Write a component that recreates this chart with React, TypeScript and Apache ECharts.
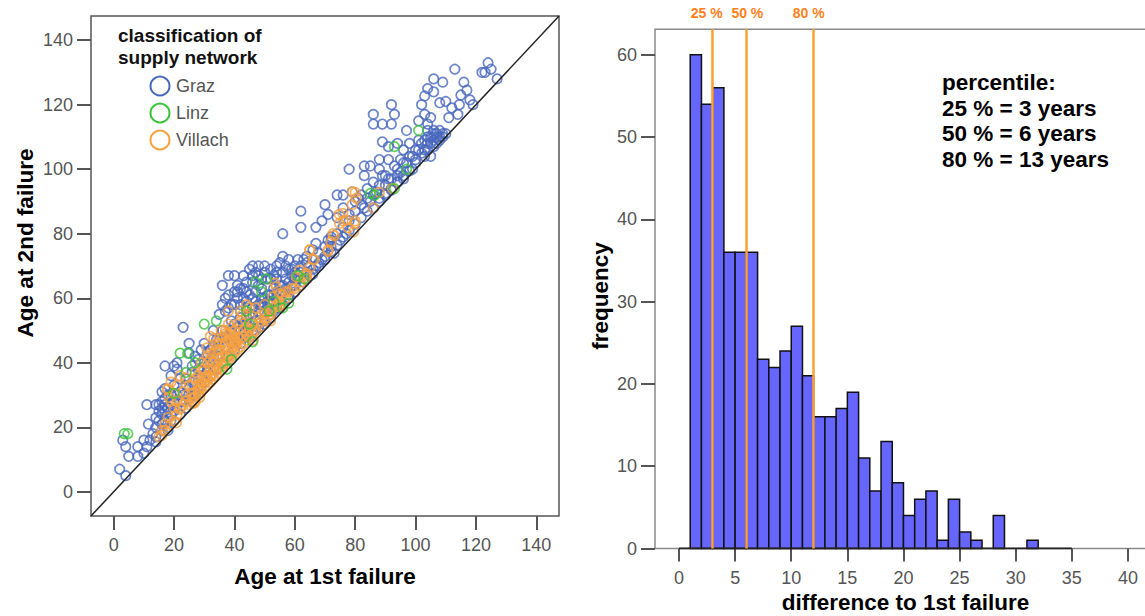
import React, { useEffect, useRef } from "react";
import * as echarts from "echarts";

// ---------- Left chart: age at 1st vs 2nd failure ----------
const scatterTicks = [0, 20, 40, 60, 80, 100, 120, 140];
const scatterRange = [-7.5, 147.5];
const seriesNames = ["Graz", "Linz", "Villach"];

const grazPoints: number[][] = [
  [2, 7], [4, 5], [3, 16], [4, 14], [5, 11], [8, 14], [8, 11], [11, 14], [12, 16], [11, 27], [11.5, 21], [10, 16], [13, 18], [14, 17],
  [14, 20], [14, 23], [15, 22], [15, 25], [15, 27], [16, 19], [16, 21], [16, 24], [16, 26], [16, 28], [17, 22], [17, 25], [17, 27],
  [18, 20], [18, 23], [18, 26], [19, 24], [19, 27], [19, 22], [20, 25], [17, 32], [18, 30], [17, 39], [20, 39], [19, 36], [21, 38],
  [20, 33], [16, 31], [14, 27],
  [23, 51], [25, 46], [25, 43], [21, 40], [22, 35], [24, 33], [26, 37], [27, 42], [28, 38], [23, 30], [25, 32], [29, 36], [29, 44],
  [26, 30], [22, 28], [24, 26], [27, 31], [30, 40], [31, 43], [32, 40], [33, 45], [34, 47], [31, 37], [33, 38], [35, 42], [28, 35], [26, 34],
  [36, 64], [38, 61], [38, 67], [40, 67], [41, 64], [41, 60], [43, 63], [43, 67], [45, 69], [44, 62], [35, 55], [37, 56], [39, 53],
  [42, 54], [45, 55], [36, 58], [38, 57], [40, 58], [42, 58], [44, 59], [36, 50], [38, 48], [40, 52], [42, 50], [44, 52], [37, 45],
  [39, 46], [41, 47], [43, 49], [35, 47], [33, 50], [34, 44],
  [47, 68], [48, 70], [50, 70], [52, 69], [54, 70], [46, 70], [49, 66], [51, 66], [53, 67], [55, 71], [56, 73], [56, 80], [57, 70],
  [58, 72], [54, 66], [46, 60], [48, 58], [50, 56], [52, 58], [54, 60], [56, 62], [58, 61], [60, 64], [46, 55], [48, 52], [47, 50],
  [50, 52], [52, 54], [55, 57], [58, 60], [44, 54], [45, 48], [47, 62], [49, 63], [51, 61], [53, 63], [55, 64], [57, 66], [59, 67],
  [46, 65], [48, 64], [50, 60], [52, 61], [56, 68], [49, 58], [51, 57], [53, 56], [47, 53], [45, 51], [43, 52],
  [62, 87], [62, 82], [60, 70], [63, 72], [65, 70], [67, 82], [69, 84], [71, 86], [70, 89], [74, 92], [76, 92], [79, 93], [66, 72],
  [64, 68], [67, 70], [70, 73], [72, 76], [67, 77], [73, 74], [68, 71], [61, 66], [62, 68], [63, 65], [65, 67], [66, 69], [69, 72],
  [72, 79], [75, 78], [77, 80], [78, 84], [76, 88], [74, 85], [71, 78], [80, 90], [59, 69], [61, 72], [64, 71],
  [86, 96], [88, 91], [90, 95], [92, 94], [82, 92], [81, 91], [83, 88], [85, 101], [83, 101], [88, 103], [83, 98], [89, 98], [91, 97],
  [94, 98], [94, 96], [96, 98], [78, 100], [86, 117], [86, 114], [89, 114], [92, 114], [92, 120], [93, 117], [89, 108.5], [91, 107],
  [94, 108], [96, 106], [97, 112], [99, 104], [98, 108], [84, 94], [87, 93], [90, 92], [93, 101], [95, 103], [97, 102], [99, 100],
  [91, 103], [88, 100], [85, 90], [95, 99],
  [101, 109], [102, 105], [103, 106], [104, 108], [105, 110], [106, 109], [107, 111], [108, 110], [109, 110], [106, 111], [107, 108],
  [104, 112], [102, 120], [105, 116], [104, 114], [101, 106], [103, 104], [105, 104], [104, 125], [103, 122.7], [106, 124], [109, 127],
  [106, 128], [108, 120.6], [108, 112], [110, 111], [100, 103], [101, 115], [103, 117],
  [113, 131], [116, 127], [115, 123], [114.5, 120], [111, 116], [110, 121], [118, 121.5], [117, 124.5], [122, 130], [124, 133],
  [125, 131], [127, 128], [123, 130], [114, 117], [119, 120], [112, 119],
  [30, 34], [32, 36], [34, 38], [36, 40], [38, 42], [40, 44], [42, 46], [44, 48], [46, 50], [48, 51], [50, 53], [52, 55], [54, 57],
  [56, 58], [58, 60], [60, 62], [62, 64], [64, 66], [66, 67.5], [68, 70], [70, 72], [72, 74.5], [74, 76.5], [76, 79], [78, 81],
  [80, 83], [82, 85], [84, 87], [86, 88], [88, 90], [90, 92.5], [92, 93.5], [94, 96], [96, 97], [98, 99.5], [100, 102], [26, 28],
  [22, 24], [18, 19], [14, 15.5], [10, 12],
  [41, 62], [43, 60], [45, 61], [47, 59], [49, 60], [51, 59], [53, 61], [55, 62], [57, 63], [59, 64], [42, 56], [44, 57], [46, 57],
  [48, 56], [50, 58], [52, 59], [54, 62], [56, 64], [58, 65], [60, 66], [48, 67], [50, 68], [52, 66], [54, 68], [46, 67], [44, 65],
  [42, 63], [40, 62], [39, 58], [37, 60], [58, 69], [60, 68], [62, 70], [64, 73], [66, 75], [68, 74], [70, 76], [72, 78], [74, 80],
  [76, 82], [78, 86], [80, 87], [82, 89], [84, 91], [86, 92], [88, 95], [90, 98], [92, 97], [94, 100], [96, 102], [98, 104],
  [100, 106], [102, 108], [104, 110], [106, 112], [105, 108], [103, 109], [107, 110], [109, 111], [108, 109], [106, 107], [104, 106],
  [33, 42], [35, 45], [37, 48], [39, 50], [41, 51], [31, 39], [29, 33], [27, 30], [25, 29], [23, 28], [21, 30], [19, 30], [17, 29],
  [20, 28], [22, 31], [24, 35], [26, 39], [28, 41], [30, 46], [32, 44],
];

const linzPoints: number[][] = [
  [3.5, 18], [4.7, 18], [20, 30.5], [22, 43], [24.5, 43], [24, 37], [27, 40], [30, 52], [34, 53], [37.5, 38], [46, 46.5], [44, 56],
  [47, 65], [50.5, 66], [49, 62], [51.5, 56], [56, 57], [53, 59], [61, 67], [63, 66], [85, 92.5], [86.5, 92], [93, 94], [93, 107],
  [97, 100], [101, 112], [58, 58.5], [39, 41], [45, 52],
];

const villachPoints: number[][] = [
  [15, 17], [17.8, 31.7], [19, 34], [20, 30.5], [18.4, 29.3], [20.8, 21.4], [22, 25.6], [23.7, 35.4], [26, 30.5], [28.5, 31.7],
  [28, 36], [30.8, 44.6], [32, 48.2], [33.2, 47.6], [35.6, 50], [38, 52], [39, 48.8], [40.3, 46.4], [34.4, 42.7], [36.8, 45.2],
  [39, 42.7], [36.2, 39], [33.2, 38], [30.8, 35.4], [28.5, 29.3], [26.7, 27.5], [42, 56], [42.7, 55], [45, 50.7], [46.3, 47],
  [53.4, 64.7], [49, 51.3], [52, 53], [55, 57.4], [61.7, 64], [64, 67], [65, 69.6], [65, 75], [66.4, 72], [71, 74.5], [73, 79.4],
  [74.7, 86], [76, 84], [77.7, 81.8], [79, 89], [80, 84], [79.5, 80.6], [80, 92.8], [86, 88], [88, 92.8], [92.3, 94], [75.9, 86.3],
  [77, 84.2], [79.8, 83.2], [74.8, 83.2], [72.6, 80], [72, 77.5], [71, 75], [64.9, 75], [66, 72], [61.6, 68.7], [60.5, 66.6],
  [63.8, 67.7], [54.9, 61.4], [53.8, 63.5], [52.7, 60.4], [54.9, 57.4], [51.6, 56.3], [50, 58], [79, 93], [80.3, 91],
  [25, 27], [26, 29], [27, 28], [28, 30], [28, 33], [29, 31], [29, 34], [30, 32], [30, 35], [31, 33], [31, 36], [32, 34], [32, 38],
  [33, 35], [33, 40], [34, 36], [34, 39], [35, 37], [35, 41], [35, 44], [36, 38], [36, 42], [37, 40], [37, 46], [38, 41], [38, 44],
  [39, 42], [39, 47], [40, 43], [40, 45], [41, 44], [41, 48], [42, 45], [43, 46], [43, 50], [44, 47], [45, 48], [46, 49], [47, 50],
  [48, 52], [49, 53], [50, 55], [51, 54], [52, 56], [53, 57], [54, 58], [55, 59], [56, 61], [57, 60], [58, 62], [60, 63], [62, 65],
  [64, 66], [16, 17.5], [17, 19], [19, 21], [20, 22], [21, 24], [22, 26], [23, 27], [24, 28], [19, 28], [18, 32], [21, 33], [22, 36],
  [24, 30], [26, 33], [27, 35], [29, 38], [31, 40], [32, 43], [34, 46], [36, 48], [37, 50], [38, 49], [40, 50], [41, 52], [44, 51],
  [26, 27.5], [27, 29.5], [28, 31.5], [29, 32.5], [30, 33.5], [31, 34.5], [32, 35.5], [33, 36.5], [34, 37.5], [35, 38.5], [36, 39.5],
  [37, 41.5], [38, 42.5], [39, 43.5], [40, 47], [41, 46], [42, 47.5], [43, 48], [44, 49], [45, 50], [30, 38], [32, 41], [34, 44],
  [36, 46], [38, 47], [40, 48], [33, 43], [35, 46], [37, 49], [39, 51], [42, 53], [44, 55], [46, 52], [48, 54], [50, 53.5], [52, 55],
  [55, 58], [57, 62], [59, 63], [31, 42], [29, 40], [27, 37], [25, 33], [23, 31], [21, 28], [20, 26], [18, 23], [17, 21], [16, 19],
  [38, 56], [45, 57], [44, 58], [47, 57],
];

// ---------- Right chart: histogram of differences ----------
const binStarts = [1, 2, 3, 4, 5, 6, 7, 8, 9, 10, 11, 12, 13, 14, 15, 16, 17, 18, 19, 20, 21, 22, 23, 24, 25, 26, 27, 28, 29, 30, 31, 32, 33, 34];
const binCounts = [60, 54, 56, 36, 36, 36, 23, 22, 24, 27, 21, 16, 16, 17, 19, 11, 7, 13, 8, 4, 6, 7, 1, 6, 2, 1, 0, 4, 0, 0, 1, 0, 0, 0];
const histTicks = [0, 5, 10, 15, 20, 25, 30, 35, 40];
const histYMax = 63.1;
const percentileValues = [3, 6, 12];
const percentileLabels = ["25 %", "50 %", "80 %"];
const percentileLabelShift = [-6, 1, -5];
const percentileText = ["percentile:", "25 % = 3 years", "50 % = 6 years", "80 % = 13 years"];

const FONT = "'Liberation Sans', Arial, sans-serif";
const colors = ["#4767BD", "#38C238", "#F8A040"];

export default function App() {
  const ref = useRef<HTMLDivElement>(null);
  useEffect(() => {
    document.body.style.margin = "0";
    const chart = echarts.init(ref.current!, null, { renderer: "svg" });
    const axisLabelStyle = { color: "#555", fontSize: 18, fontFamily: FONT };
    const nameStyle = { color: "#000", fontSize: 22.5, fontWeight: "bold" as const, fontFamily: FONT };
    const pointLists = [grazPoints, linzPoints, villachPoints];
    const histData = binStarts
      .map((s, i) => [s, s + 1, binCounts[i]])
      .filter((d) => d[2] > 0);

    const scatterSeries = [0, 2, 1].map((i) => ({
      type: "scatter",
      name: seriesNames[i],
      xAxisIndex: 0,
      yAxisIndex: 0,
      data: pointLists[i],
      symbol: "circle",
      symbolSize: 9.5,
      itemStyle: { color: "rgba(255,255,255,0)", borderColor: colors[i], borderWidth: 1.7 },
      z: 2,
    }));

    chart.setOption({
      animation: false,
      textStyle: { fontFamily: FONT },
      grid: [
        { left: 91, top: 16, width: 468, height: 500, show: true, borderColor: "#555", borderWidth: 1.5, outerBoundsMode: "none" },
        { left: 655, top: 29.3, width: 501, height: 519.2, show: true, borderColor: "#8a8a8a", borderWidth: 1.5, outerBoundsMode: "none" },
      ],
      xAxis: [
        {
          gridIndex: 0, type: "value", min: scatterRange[0], max: scatterRange[1],
          axisLine: { show: false, onZero: false }, splitLine: { show: false },
          axisTick: { show: true, customValues: scatterTicks, length: 14, lineStyle: { color: "#555", width: 2 } },
          axisLabel: { ...axisLabelStyle, customValues: scatterTicks, margin: 20 },
          name: "Age at 1st failure", nameLocation: "middle", nameGap: 49, nameMoveOverlap: false, nameTextStyle: nameStyle,
        },
        {
          gridIndex: 1, type: "value", min: -2.14, max: 42.5,
          axisLine: { show: false, onZero: false }, splitLine: { show: false },
          axisTick: { show: true, customValues: histTicks, length: 13, lineStyle: { color: "#555", width: 2 } },
          axisLabel: { ...axisLabelStyle, customValues: histTicks, margin: 20 },
          name: "difference to 1st failure", nameLocation: "middle", nameGap: 42, nameMoveOverlap: false,
          nameTextStyle: nameStyle,
        },
      ],
      yAxis: [
        {
          gridIndex: 0, type: "value", min: scatterRange[0], max: scatterRange[1],
          axisLine: { show: false, onZero: false }, splitLine: { show: false },
          axisTick: { show: true, customValues: scatterTicks, length: 14, lineStyle: { color: "#555", width: 2 } },
          axisLabel: { ...axisLabelStyle, customValues: scatterTicks, margin: 18 },
        },
        {
          gridIndex: 1, type: "value", min: 0, max: histYMax, interval: 10,
          axisLine: { show: false, onZero: false }, splitLine: { show: false },
          axisTick: { show: true, length: 14, lineStyle: { color: "#555", width: 2 } },
          axisLabel: { ...axisLabelStyle, margin: 18, showMaxLabel: false },
        },
      ],
      series: [
        ...scatterSeries,
        {
          type: "line",
          xAxisIndex: 0, yAxisIndex: 0,
          data: [[scatterRange[0], scatterRange[0]], [scatterRange[1], scatterRange[1]]],
          symbol: "none",
          lineStyle: { color: "#222", width: 1.5 },
          z: 3,
          silent: true,
        },
        {
          type: "custom",
          xAxisIndex: 1, yAxisIndex: 1,
          data: histData,
          encode: { x: [0, 1], y: 2 },
          renderItem: (params: any, api: any) => {
            const p0 = api.coord([api.value(0), 0]);
            const p1 = api.coord([api.value(1), api.value(2)]);
            return {
              type: "rect",
              shape: { x: p0[0], y: p1[1], width: p1[0] - p0[0], height: p0[1] - p1[1] },
              style: { fill: "#6666FF", stroke: "#111", lineWidth: 1.5 },
            };
          },
          z: 2,
        },
        {
          type: "line",
          xAxisIndex: 1, yAxisIndex: 1,
          data: [[0, 0], [35, 0]],
          symbol: "none",
          lineStyle: { color: "#222", width: 2 },
          z: 4,
          silent: true,
          markLine: {
            silent: true,
            symbol: ["none", "none"],
            lineStyle: { color: "#FFA033", width: 2.5, type: "solid" },
            label: { position: "end", distance: 9, color: "#FF7F1A", fontSize: 14, fontWeight: "bold", fontFamily: FONT },
            data: percentileValues.map((v, i) => ({
              xAxis: v,
              label: { formatter: percentileLabels[i], offset: [percentileLabelShift[i], 0] },
            })),
          },
        },
      ],
      graphic: [
        {
          type: "text", x: 25, y: 243, rotation: Math.PI / 2,
          style: { text: "Age at 2nd failure", font: `bold 22.5px ${FONT}`, fill: "#000", align: "center", verticalAlign: "middle" },
        },
        {
          type: "text", x: 600, y: 296, rotation: Math.PI / 2,
          style: { text: "frequency", font: `bold 22.5px ${FONT}`, fill: "#000", align: "center", verticalAlign: "middle" },
        },
        {
          type: "text", left: 118, top: 24,
          style: { text: "classification of\nsupply network", font: `bold 19px ${FONT}`, fill: "#111", lineHeight: 22 },
        },
        ...seriesNames.flatMap((n, i) => [
          {
            type: "circle", shape: { cx: 160, cy: 86 + i * 27, r: 9.5 },
            style: { fill: "none", stroke: colors[i], lineWidth: 2 },
          },
          {
            type: "text", x: 176, y: 86 + i * 27,
            style: { text: n, font: `18px ${FONT}`, fill: "#555", verticalAlign: "middle" },
          },
        ]),
        {
          type: "text", left: 942, top: 70,
          style: { text: percentileText.join("\n"), font: `bold 22.5px ${FONT}`, fill: "#000", lineHeight: 25.5 },
        },
      ],
    });
    return () => chart.dispose();
  }, []);
  return <div ref={ref} style={{ position: "absolute", left: 0, top: 0, width: 1145, height: 616 }} />;
}
